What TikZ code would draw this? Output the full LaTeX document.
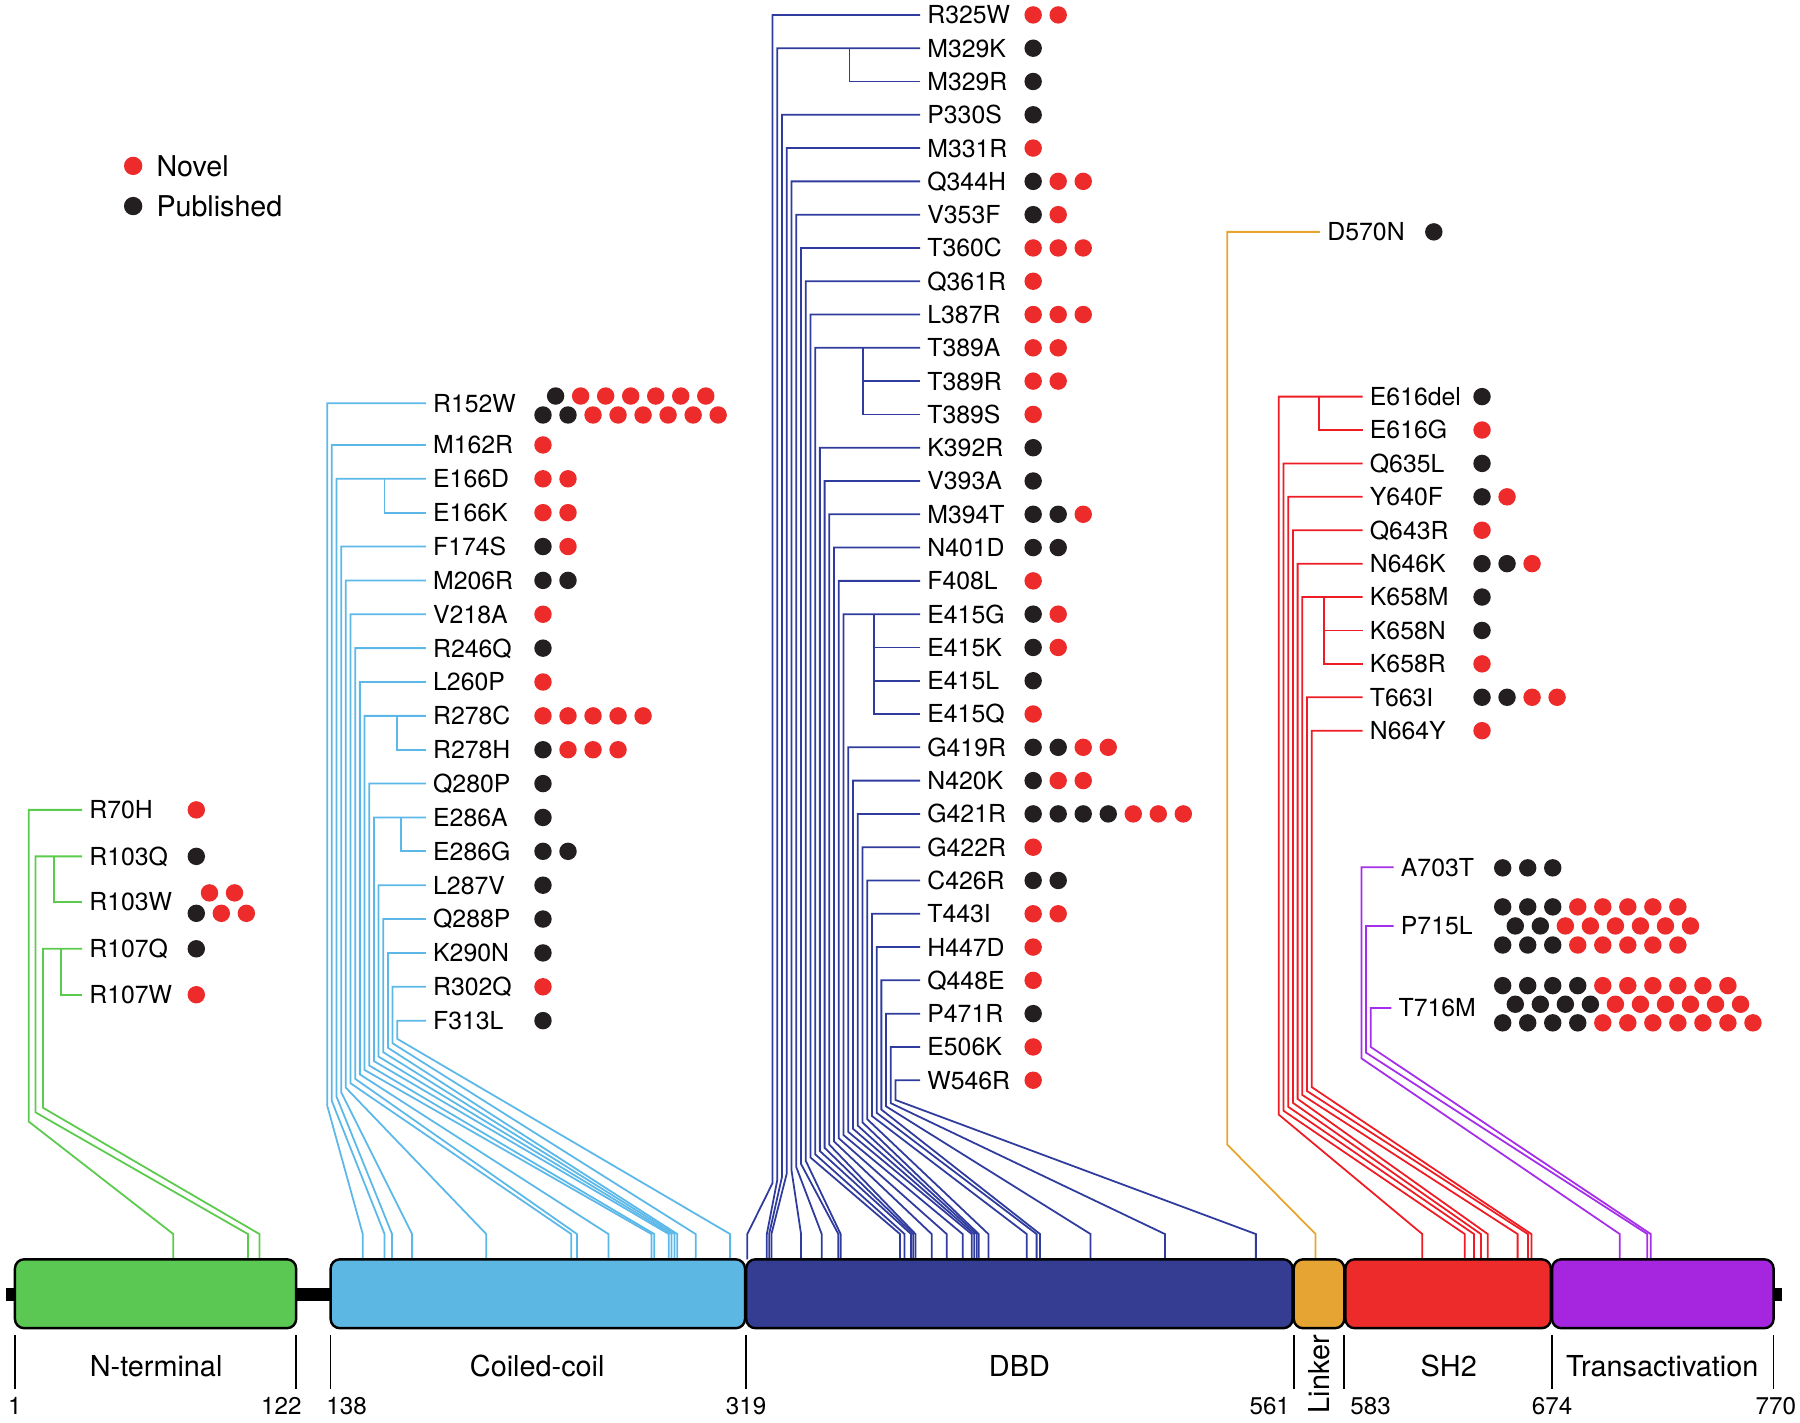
\documentclass[tikz,border=0pt]{standalone}
\usepackage{fontspec}
\setmainfont{TeX Gyre Heros}
\definecolor{cR}{HTML}{EE2B2B}
\definecolor{cB}{HTML}{231F20}
\definecolor{ntc}{HTML}{5BC853}
\definecolor{ccc}{HTML}{5DB7E3}
\definecolor{dbc}{HTML}{343D91}
\definecolor{lkc}{HTML}{E6A533}
\definecolor{shc}{HTML}{EE2B2B}
\definecolor{tac}{HTML}{A626E0}
\definecolor{gl}{HTML}{5ACB4C}
\definecolor{bl}{HTML}{5BB8E8}
\definecolor{dl}{HTML}{2F3C9E}
\definecolor{ol}{HTML}{E8A52E}
\definecolor{rl}{HTML}{EE1C24}
\definecolor{pl}{HTML}{A52EEA}
\newcommand{\dotrow}[3]{\foreach \c [count=\k from 0] in {#3} {\fill[fill=c\c] ({#1+21.8*\k},{#2}) circle (0.152cm);}}
\begin{document}
\begin{tikzpicture}[x=0.02cm, y=-0.02cm,
  conn/.style={line width=0.88pt, line join=miter},
  mut/.style={anchor=west, inner xsep=0.12cm, inner ysep=0pt, font=\fontsize{12.3}{14}\selectfont, text height=8.86pt, text depth=0pt},
  dom/.style={draw=black, line width=1.2pt, rounded corners=0.16cm, minimum height=1.2cm, inner sep=0pt},
  tickline/.style={line width=0.8pt},
  num/.style={font=\fontsize{12}{14}\selectfont, inner sep=0pt, text height=8.6pt, text depth=0pt},
  dname/.style={font=\fontsize{14.3}{16}\selectfont, inner sep=0pt, text height=10.3pt, text depth=0pt},
  leg/.style={anchor=west, font=\fontsize{14.2}{16}\selectfont, inner sep=0pt, text height=10.2pt, text depth=0pt}]
\useasboundingbox (0,0) rectangle (1568,1239);

% legend
\fill[cR] (116,144.5) circle (0.16cm);
\node[leg] (lnov) at (136,144.5) {Novel};
\fill[cB] (116,179.5) circle (0.16cm);
\node[leg] (lpub) at (136,179.5) {Published};

% ---------------- N-terminal (green)
\node[mut] (g0) at (71.5,705.5) {R70H};
\node[mut] (g1) at (71.5,746) {R103Q};
\node[mut] (g2) at (71.5,785.6) {R103W};
\node[mut] (g3) at (71.5,826.5) {R107Q};
\node[mut] (g4) at (71.5,866.5) {R107W};
\draw[conn,gl] (g0.west) -| (25,977) -- (151,1075) -- (151,1097);
\draw[conn,gl] (g1.west) -| (31,969) -- (216,1075) -- (216,1097);
\draw[conn,gl] (g3.west) -| (37.5,965) -- (226,1075) -- (226,1097);
\draw[conn,gl] (47,746) |- (g2.west);
\draw[conn,gl] (53,826.5) |- (g4.west);
\dotrow{171}{705.5}{R}
\dotrow{171}{746}{B}
\dotrow{182.5}{777.8}{R,R}
\dotrow{171}{795.6}{B,R,R}
\dotrow{171}{826.5}{B}
\dotrow{171}{866.5}{R}

% ---------------- Coiled-coil (light blue)
\node[mut] (c0) at (371,351.3) {R152W};
\foreach \t [count=\j from 1] in {M162R,E166D,E166K,F174S,M206R,V218A,R246Q,L260P,R278C,R278H,Q280P,E286A,E286G,L287V,Q288P,K290N,R302Q,F313L}
  {\node[mut] (c\j) at (371,{387.6+29.5*(\j-1)}) {\t};}
\foreach \i/\j/\xs in {0/0/316,1/1/335,2/2/341.5,3/4/359,4/5/423.6,5/6/497.6,6/7/502.6,7/8/530,8/9/567.5,9/11/570,10/12/582.6,11/14/585,12/15/587.6,13/16/590,14/17/606,15/18/636}
  {\draw[conn,bl] (c\j.west) -| ({285+4.07*\i},{963-3.87*\i}) -- (\xs,1075) -- (\xs,1097);}
\draw[conn,bl] (335,417.1) |- (c3.west);
\draw[conn,bl] (345.5,623.6) |- (c10.west);
\draw[conn,bl] (349,712.1) |- (c13.west);
\dotrow{484}{345}{B,R,R,R,R,R,R}
\dotrow{473}{361.5}{B,B,R,R,R,R,R,R}
\dotrow{473}{387.6}{R}
\dotrow{473}{417.1}{R,R}
\dotrow{473}{446.6}{R,R}
\dotrow{473}{476.1}{B,R}
\dotrow{473}{505.6}{B,B}
\dotrow{473}{535.1}{R}
\dotrow{473}{564.6}{B}
\dotrow{473}{594.1}{R}
\dotrow{473}{623.6}{R,R,R,R,R}
\dotrow{473}{653.1}{B,R,R,R}
\dotrow{473}{682.6}{B}
\dotrow{473}{712.1}{B}
\dotrow{473}{741.6}{B,B}
\dotrow{473}{771.1}{B}
\dotrow{473}{800.6}{B}
\dotrow{473}{830.1}{B}
\dotrow{473}{859.6}{R}
\dotrow{473}{889.1}{B}

% ---------------- DBD (dark blue)
\foreach \t [count=\j from 0] in {R325W,M329K,M329R,P330S,M331R,Q344H,V353F,T360C,Q361R,L387R,T389A,T389R,T389S,K392R,V393A,M394T,N401D,F408L,E415G,E415K,E415L,E415Q,G419R,N420K,G421R,G422R,C426R,T443I,H447D,Q448E,P471R,E506K,W546R}
  {\node[mut] (d\j) at (801.5,{13+29*\j}) {\t};}
\foreach \i/\j/\xs in {0/0/651,1/1/668,2/3/670,3/4/672,4/5/697.8,5/6/715.8,6/7/730.3,7/8/732.3,8/9/784,9/10/788,10/13/793.6,11/14/795.6,12/15/797.5,13/16/811.6,14/17/824.7,15/18/838.6,16/22/846.4,17/23/848.7,18/24/850.8,19/25/852.6,20/26/861,21/27/894.4,22/28/903,23/29/906,24/30/950,25/31/1014.8,26/32/1094}
  {\draw[conn,dl] (d\j.west) -| ({673+4.12*\i},{1030.5-2.78*\i}) -- (\xs,1075) -- (\xs,1097);}
\draw[conn,dl] (740,42) |- (d2.west);
\draw[conn,dl] (752,303) |- (d11.west);
\draw[conn,dl] (752,303) |- (d12.west);
\draw[conn,dl] (761.6,535) |- (d19.west);
\draw[conn,dl] (761.6,535) |- (d20.west);
\draw[conn,dl] (761.6,535) |- (d21.west);
\dotrow{900}{13}{R,R}
\dotrow{900}{42}{B}
\dotrow{900}{71}{B}
\dotrow{900}{100}{B}
\dotrow{900}{129}{R}
\dotrow{900}{158}{B,R,R}
\dotrow{900}{187}{B,R}
\dotrow{900}{216}{R,R,R}
\dotrow{900}{245}{R}
\dotrow{900}{274}{R,R,R}
\dotrow{900}{303}{R,R}
\dotrow{900}{332}{R,R}
\dotrow{900}{361}{R}
\dotrow{900}{390}{B}
\dotrow{900}{419}{B}
\dotrow{900}{448}{B,B,R}
\dotrow{900}{477}{B,B}
\dotrow{900}{506}{R}
\dotrow{900}{535}{B,R}
\dotrow{900}{564}{B,R}
\dotrow{900}{593}{B}
\dotrow{900}{622}{R}
\dotrow{900}{651}{B,B,R,R}
\dotrow{900}{680}{B,R,R}
\dotrow{900}{709}{B,B,B,B,R,R,R}
\dotrow{900}{738}{R}
\dotrow{900}{767}{B,B}
\dotrow{900}{796}{R,R}
\dotrow{900}{825}{R}
\dotrow{900}{854}{R}
\dotrow{900}{883}{B}
\dotrow{900}{912}{R}
\dotrow{900}{941}{R}

% ---------------- Linker (orange)
\node[mut] (o0) at (1150,202) {D570N};
\draw[conn,ol] (o0.west) -| (1069,997) -- (1146,1075) -- (1146,1097);
\dotrow{1249}{202}{B}

% ---------------- SH2 (red)
\foreach \t [count=\j from 0] in {E616del,E616G,Q635L,Y640F,Q643R,N646K,K658M,K658N,K658R,T663I,N664Y}
  {\node[mut] (s\j) at (1187,{345.5+29.1*\j}) {\t};}
\foreach \i/\j/\xs in {0/0/1239,1/2/1276,2/3/1284,3/4/1290,4/5/1296,5/6/1322,6/9/1331,7/10/1334}
  {\draw[conn,rl] (s\j.west) -| ({1114+4.09*\i},{971-3.43*\i}) -- (\xs,1075) -- (\xs,1097);}
\draw[conn,rl] (1149,345.5) |- (s1.west);
\draw[conn,rl] (1153.4,520.1) |- (s7.west);
\draw[conn,rl] (1153.4,520.1) |- (s8.west);
\dotrow{1291}{345.5}{B}
\dotrow{1291}{374.6}{R}
\dotrow{1291}{403.7}{B}
\dotrow{1291}{432.8}{B,R}
\dotrow{1291}{461.9}{R}
\dotrow{1291}{491}{B,B,R}
\dotrow{1291}{520.1}{B}
\dotrow{1291}{549.2}{B}
\dotrow{1291}{578.3}{R}
\dotrow{1291}{607.4}{B,B,R,R}
\dotrow{1291}{636.5}{R}

% ---------------- Transactivation (purple)
\node[mut] (p0) at (1214,755.5) {A703T};
\node[mut] (p1) at (1214,806.7) {P715L};
\node[mut] (p2) at (1212,878) {T716M};
\draw[conn,pl] (p0.west) -| (1186,922) -- (1411,1075) -- (1411,1097);
\draw[conn,pl] (p1.west) -| (1190,917) -- (1435,1075) -- (1435,1097);
\draw[conn,pl] (p2.west) -| (1194,912) -- (1438,1075) -- (1438,1097);
\dotrow{1309}{756}{B,B,B}
\dotrow{1309}{790}{B,B,B,R,R,R,R,R}
\dotrow{1320}{806.6}{B,B,R,R,R,R,R,R}
\dotrow{1309}{823.2}{B,B,B,R,R,R,R,R}
\dotrow{1309}{858.6}{B,B,B,B,R,R,R,R,R,R}
\dotrow{1320}{874.8}{B,B,B,B,R,R,R,R,R,R}
\dotrow{1309}{891}{B,B,B,B,R,R,R,R,R,R,R}

% ---------------- protein bar
\fill[black] (5,1122) rectangle (1552,1133);
\node[dom, fill=ntc, minimum width=4.9cm] (nt) at (135.5,1127) {};
\node[dom, fill=ccc, minimum width=7.22cm] (cc) at (468.5,1127) {};
\node[dom, fill=dbc, minimum width=9.52cm] (dbd) at (888,1127) {};
\node[dom, fill=lkc, minimum width=0.88cm] (lk) at (1149,1127) {};
\node[dom, fill=shc, minimum width=3.58cm] (sh) at (1261.5,1127) {};
\node[dom, fill=tac, minimum width=3.86cm] (ta) at (1448.5,1127) {};

% ticks and numbers
\foreach \x in {13,258,288,650,1127,1171,1352,1545}
  {\draw[tickline] (\x,1163) -- (\x,1210);}
\node[num] (n1) at (13,1225) {1};
\node[num, anchor=east] (n122) at (263,1225) {122};
\node[num, anchor=west] (n138) at (284,1225) {138};
\node[num] (n319) at (650,1225) {319};
\node[num, anchor=east] (n561) at (1124,1225) {561};
\node[num, anchor=west] (n583) at (1176,1225) {583};
\node[num] (n674) at (1352,1225) {674};
\node[num] (n770) at (1547,1225) {770};

\node[dname] (lnt) at (136,1190) {N-terminal};
\node[dname] (lcc) at (468,1190) {Coiled-coil};
\node[dname] (ldbd) at (888,1190) {DBD};
\node[dname, rotate=90] (llk) at (1149,1197) {Linker};
\node[dname] (lsh) at (1262,1190) {SH2};
\node[dname] (lta) at (1448,1190) {Transactivation};
\end{tikzpicture}
\end{document}
